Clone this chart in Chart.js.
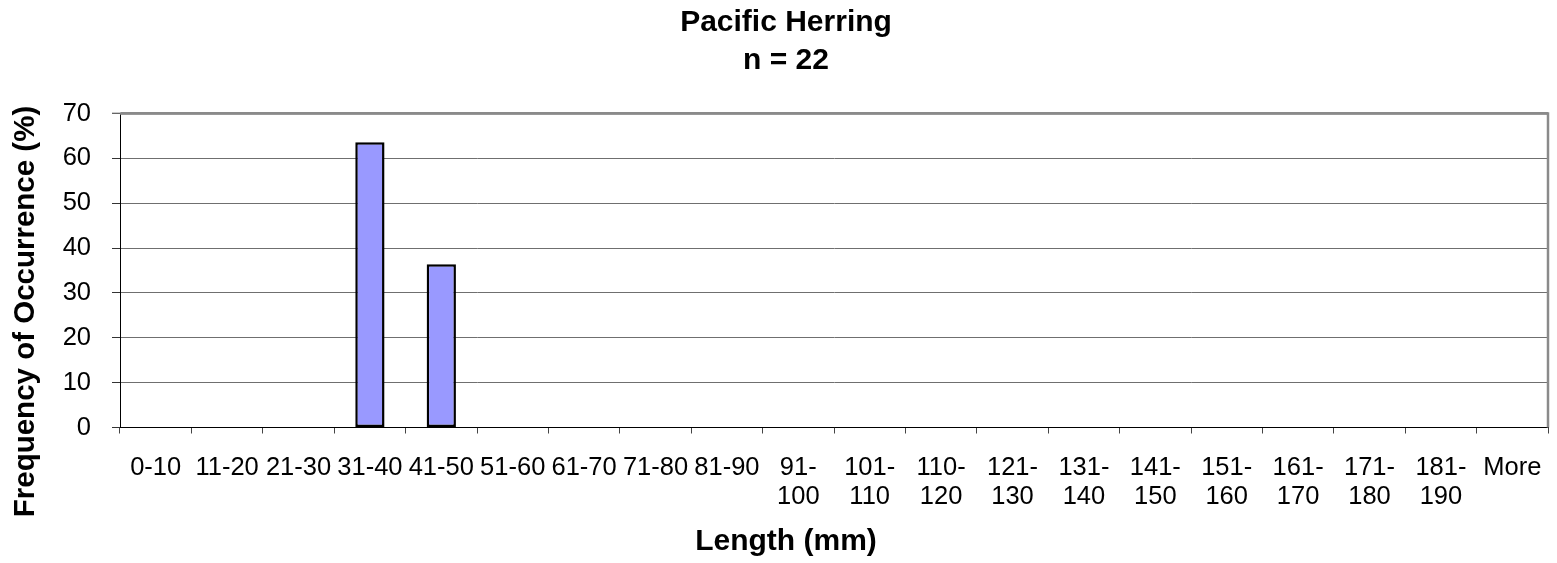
<!DOCTYPE html>
<html>
<head>
<meta charset="utf-8">
<script src="https://cdn.jsdelivr.net/npm/chart.js@4/dist/chart.umd.min.js"></script>
<style>
  html, body { margin: 0; padding: 0; background: #ffffff; }
  #wrap { width: 1557px; height: 563px; }
</style>
</head>
<body>
<div id="wrap"><canvas id="c" width="1557" height="563"></canvas></div>
<script>
const categories = ['0-10', '11-20', '21-30', '31-40', '41-50', '51-60', '61-70', '71-80', '81-90',
  ['91-', '100'], ['101-', '110'], ['110-', '120'], ['121-', '130'], ['131-', '140'], ['141-', '150'],
  ['151-', '160'], ['161-', '170'], ['171-', '180'], ['181-', '190'], 'More'];
const frequency = [0, 0, 0, 63.6, 36.4, 0, 0, 0, 0, 0, 0, 0, 0, 0, 0, 0, 0, 0, 0, 0];
const yTicks = [0, 10, 20, 30, 40, 50, 60, 70];
const titleLines = ['Pacific Herring', 'n = 22'];
const xTitle = 'Length (mm)';
const yTitle = 'Frequency of Occurrence (%)';

const FONT = "'Liberation Sans', Arial, Helvetica, sans-serif";

const frameAndYTitle = {
  id: 'frameAndYTitle',
  beforeDatasetsDraw(chart) {
    const { ctx, chartArea: a } = chart;
    ctx.save();
    ctx.strokeStyle = '#8a8a8a';
    ctx.lineWidth = 2.5;
    ctx.beginPath();
    ctx.moveTo(a.left, a.top);
    ctx.lineTo(a.right, a.top);
    ctx.lineTo(a.right, a.bottom);
    ctx.stroke();
    ctx.restore();
  },
  afterDraw(chart) {
    const { ctx } = chart;
    ctx.save();
    ctx.translate(26, 311.5);
    ctx.rotate(-Math.PI / 2);
    ctx.font = 'bold 29.5px ' + FONT;
    ctx.fillStyle = '#000000';
    ctx.textAlign = 'center';
    ctx.textBaseline = 'middle';
    ctx.fillText(yTitle, 0, 0);
    ctx.restore();
  }
};

new Chart(document.getElementById('c'), {
  type: 'bar',
  data: {
    labels: categories,
    datasets: [{
      data: frequency,
      backgroundColor: '#9999ff',
      borderColor: '#000000',
      borderWidth: 2.5,
      borderSkipped: false,
      barPercentage: 0.41,
      categoryPercentage: 1.0
    }]
  },
  options: {
    responsive: false,
    animation: false,
    layout: { padding: { left: 24, right: 9, top: 0, bottom: 0 } },
    plugins: {
      legend: { display: false },
      tooltip: { enabled: false },
      title: {
        display: true,
        text: titleLines,
        color: '#000000',
        font: { family: FONT, size: 30, weight: 'bold', lineHeight: 1.25 },
        padding: { top: 4, bottom: 34.5 }
      },
      subtitle: {
        display: true,
        position: 'bottom',
        text: xTitle,
        color: '#000000',
        font: { family: FONT, size: 30, weight: 'bold', lineHeight: 1.2 },
        padding: { top: 0, bottom: 3 }
      }
    },
    scales: {
      x: {
        offset: true,
        grid: {
          display: true,
          offset: true,
          drawOnChartArea: false,
          drawTicks: true,
          tickLength: 6,
          tickColor: '#444444',
          tickWidth: 1
        },
        border: { display: true, color: '#000000', width: 1 },
        ticks: {
          color: '#000000',
          font: { family: FONT, size: 25.5, lineHeight: 1.14 },
          padding: 20,
          maxRotation: 0,
          minRotation: 0,
          autoSkip: false
        },
        afterFit(scale) {
          scale.height = 96.5;
          scale.paddingLeft = 0;
          scale.paddingRight = 0;
        }
      },
      y: {
        min: 0,
        max: 70,
        afterBuildTicks(scale) { scale.ticks = yTicks.map(v => ({ value: v })); },
        grid: {
          color: (c) => c.tick && c.tick.value === 70 ? '#8a8a8a' : (c.tick && c.tick.value === 0 ? '#000000' : '#6f6f6f'),
          lineWidth: (c) => c.tick && c.tick.value === 70 ? 2.5 : 1,
          drawTicks: true,
          tickLength: 8,
          tickColor: '#333333',
          tickWidth: 1
        },
        border: { display: true, color: '#000000', width: 1 },
        ticks: {
          color: '#000000',
          font: { family: FONT, size: 25.5 },
          padding: 21
        },
        afterFit(scale) { scale.width = 96; }
      }
    }
  },
  plugins: [frameAndYTitle]
});
</script>
</body>
</html>
